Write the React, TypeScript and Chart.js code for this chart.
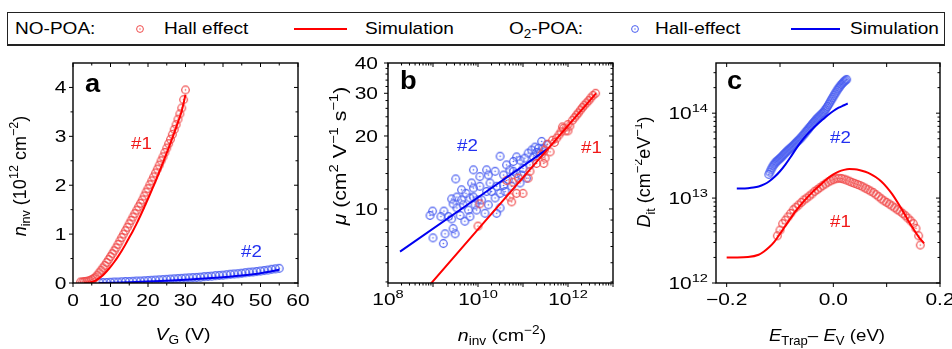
import React, { useEffect, useRef } from 'react';
import { Chart, registerables } from 'chart.js';
Chart.register(...registerables);

const FONT = '"Liberation Sans", Arial, Helvetica, sans-serif';
const RED_LINE = '#ff0000';
const BLUE_LINE = '#0000f0';
const RED_PT = '#f04c4c';
const BLUE_PT = '#4a5ef0';
const RED_TXT = '#f01818';
const BLUE_TXT = '#2230f0';

// ---------- Panel a : n_inv vs V_G ----------
const A_RED_HALL_V = [2, 2.5, 3, 3.5, 4, 4.5, 5, 5.5, 6, 6.5, 7, 7.5, 8, 8.5, 9, 9.5, 10, 10.5, 11, 11.5, 12, 12.5, 13, 13.5, 14, 14.5, 15, 15.5, 16, 16.5, 17, 17.5, 18, 18.5, 19, 19.5, 20, 20.5, 21, 21.5, 22, 22.5, 23, 23.5, 24, 24.5, 25, 25.5, 26, 26.5, 27, 27.5, 28, 28.5, 29, 29.5, 30];
const A_RED_HALL_N = [0.02, 0.02, 0.03, 0.03, 0.04, 0.05, 0.07, 0.09, 0.12, 0.16, 0.21, 0.26, 0.31, 0.36, 0.42, 0.48, 0.54, 0.6, 0.66, 0.72, 0.79, 0.86, 0.93, 1.0, 1.07, 1.14, 1.21, 1.28, 1.35, 1.42, 1.49, 1.56, 1.63, 1.7, 1.78, 1.86, 1.93, 2.01, 2.09, 2.17, 2.25, 2.33, 2.41, 2.5, 2.58, 2.67, 2.76, 2.85, 2.94, 3.04, 3.14, 3.24, 3.35, 3.46, 3.58, 3.75, 3.95];
const A_RED_SIM_V = [3, 4, 5, 6, 7, 8, 9, 10, 11, 12, 13, 14, 15, 16, 17, 18, 19, 20, 21, 22, 23, 24, 25, 26, 27, 28, 29, 30];
const A_RED_SIM_N = [0, 0.005, 0.02, 0.05, 0.1, 0.16, 0.24, 0.33, 0.43, 0.54, 0.66, 0.79, 0.93, 1.07, 1.22, 1.38, 1.55, 1.72, 1.9, 2.08, 2.27, 2.46, 2.66, 2.86, 3.07, 3.29, 3.52, 3.85];
const A_BLUE_HALL_V = [7, 8, 9, 10, 11, 12, 13, 14, 15, 16, 17, 18, 19, 20, 21, 22, 23, 24, 25, 26, 27, 28, 29, 30, 31, 32, 33, 34, 35, 36, 37, 38, 39, 40, 41, 42, 43, 44, 45, 46, 47, 48, 49, 50, 51, 52, 53, 54, 55];
const A_BLUE_HALL_N = [0.01, 0.01, 0.01, 0.015, 0.02, 0.02, 0.025, 0.03, 0.03, 0.035, 0.04, 0.04, 0.045, 0.05, 0.055, 0.06, 0.065, 0.07, 0.075, 0.08, 0.085, 0.09, 0.095, 0.1, 0.105, 0.11, 0.115, 0.12, 0.13, 0.135, 0.14, 0.15, 0.155, 0.16, 0.17, 0.18, 0.185, 0.19, 0.2, 0.21, 0.22, 0.225, 0.235, 0.245, 0.255, 0.265, 0.28, 0.29, 0.3];
const A_BLUE_SIM_V = [7, 10, 15, 20, 25, 30, 35, 40, 45, 50, 55];
const A_BLUE_SIM_N = [0, 0.005, 0.015, 0.03, 0.045, 0.065, 0.09, 0.12, 0.155, 0.2, 0.27];
const A_X_TICKS = [0, 10, 20, 30, 40, 50, 60];
const A_X_MINOR = [5, 15, 25, 35, 45, 55];
const A_Y_TICKS = [0, 1, 2, 3, 4];
const A_Y_MINOR = [0.5, 1.5, 2.5, 3.5];

// ---------- Panel b : mobility vs n_inv ----------
const B_BLUE_HALL_N = [9.8e8, 8.6e8, 1.75e9, 1.5e9, 2.6e9, 2.8e9, 3.4e9, 2.6e9, 4.7e9, 5.4e9, 6.6e9, 7.9e9, 8.6e9, 1.1e10, 1.2e10, 1.55e10, 1.7e10, 1.85e10, 2.4e10, 2.6e10, 3.1e10, 7.9e9, 3.2e9, 1.55e10, 2.4e10, 3.7e10, 4.0e10, 4.7e10, 5.1e10, 7.2e10, 8.6e10, 8.6e10, 1.1e11, 1.43e11, 1.7e11, 2.4e11, 2.6e11, 2.2e11, 3.4e11, 3.1e10, 2.6e10, 6.6e9, 5.1e9, 1.85e9, 2.8e9, 1.0e9, 1.7e9, 3.1e9, 9.3e9, 1.43e10, 4.3e10, 6.1e10, 1.0e11, 1.2e11, 1.7e10, 1.1e10, 7.2e9, 4.3e9, 3.4e9, 6.1e9, 4.0e9, 2.2e9, 6.1e10, 7.2e10, 1.3e11, 1.56e11, 1.85e11, 2.0e11, 2.8e11, 9.3e10, 3.7e10, 5.6e10, 2.0e10, 3.1e10, 7.9e9, 4.3e9, 1.0e10];
const B_BLUE_HALL_MU = [9.8, 9.4, 9.8, 9.3, 11.0, 10.5, 10.1, 9.1, 10.4, 11.6, 11.1, 12.2, 10.4, 12.4, 10.9, 11.8, 10.4, 12.8, 11.1, 12.4, 16.5, 14.5, 13.3, 14.5, 14.3, 13.8, 11.8, 13.2, 14.5, 14.0, 15.9, 12.8, 16.2, 15.2, 16.4, 17.0, 19.0, 17.8, 18.4, 10.1, 9.6, 9.3, 8.9, 7.9, 8.3, 7.6, 7.2, 7.9, 9.9, 9.6, 15.2, 14.3, 14.7, 13.4, 13.8, 13.6, 12.8, 12.0, 11.2, 9.9, 9.4, 9.3, 15.7, 16.4, 17.0, 17.5, 18.0, 17.1, 17.8, 13.8, 12.5, 12.4, 11.8, 11.6, 11.2, 10.9, 10.9];
const B_RED_HALL_N = [1.0e10, 1.1e10, 4.3e10, 5.1e10, 5.6e10, 7.2e10, 1.0e11, 6.0e10, 7.9e10, 1.3e11, 1.43e11, 2.0e11, 2.9e11, 3.1e11, 2.6e11, 3.0e11, 3.5e11, 4.0e11, 4.5e11, 5.0e11, 5.6e11, 6.3e11, 7.0e11, 7.5e11, 7.9e11, 8.9e11, 1.0e12, 1.0e12, 1.1e12, 1.25e12, 1.4e12, 1.55e12, 1.7e12, 1.9e12, 2.1e12, 2.3e12, 2.6e12, 2.9e12, 3.2e12, 3.6e12, 4.1e12];
const B_RED_HALL_MU = [8.5, 10.5, 13.1, 11.2, 10.7, 11.6, 11.6, 12.9, 13.4, 13.4, 14.3, 15.4, 15.4, 16.2, 16.8, 17.5, 18.5, 17.2, 19.2, 18.8, 19.6, 20.2, 20.8, 21.8, 21.5, 21.0, 22.3, 21.0, 22.0, 23.2, 23.8, 24.4, 24.9, 25.6, 26.2, 26.8, 27.4, 28.0, 28.7, 29.4, 30.0];
const B_BLUE_SIM_N = [1.85e8, 3.4e11];
const B_BLUE_SIM_MU = [6.67, 17.6];
const B_RED_SIM_N = [8.0e8, 4.2e12];
const B_RED_SIM_MU = [4.8, 30];
const B_X_LABEL_EXP = [8, 10, 12];
const B_X_DECADES = [8, 9, 10, 11, 12, 13];
const B_Y_TICKS = [10, 20, 30, 40];
const B_Y_MINOR = [5, 6, 7, 8, 9, 12, 14, 16, 18, 22, 24, 26, 28, 32, 34, 36, 38];

// ---------- Panel c : D_it vs E_trap - E_V ----------
const C_BLUE_HALL_E = [-0.121, -0.119, -0.117, -0.115, -0.113, -0.111, -0.109, -0.107, -0.105, -0.103, -0.101, -0.099, -0.097, -0.095, -0.093, -0.091, -0.089, -0.087, -0.085, -0.083, -0.081, -0.079, -0.077, -0.075, -0.073, -0.071, -0.069, -0.067, -0.065, -0.063, -0.061, -0.059, -0.057, -0.055, -0.053, -0.051, -0.049, -0.047, -0.045, -0.043, -0.041, -0.039, -0.037, -0.035, -0.033, -0.031, -0.029, -0.027, -0.025, -0.023, -0.021, -0.019, -0.017, -0.015, -0.013, -0.011, -0.009, -0.007, -0.005, -0.003, -0.001, 0.001, 0.003, 0.005, 0.007, 0.009, 0.011, 0.013, 0.015, 0.017, 0.019, 0.021, 0.023, 0.025];
const C_BLUE_HALL_D13 = [1.9, 2.02, 2.15, 2.28, 2.4, 2.5, 2.6, 2.68, 2.75, 2.82, 2.9, 2.97, 3.05, 3.15, 3.25, 3.35, 3.45, 3.55, 3.65, 3.75, 3.85, 3.95, 4.05, 4.18, 4.3, 4.42, 4.55, 4.68, 4.8, 4.95, 5.1, 5.28, 5.45, 5.65, 5.85, 6.08, 6.3, 6.52, 6.75, 7.0, 7.25, 7.5, 7.75, 8.02, 8.3, 8.55, 8.8, 9.05, 9.3, 9.6, 9.9, 10.2, 10.6, 11.0, 11.5, 12.0, 12.6, 13.2, 13.9, 14.6, 15.3, 16.1, 16.9, 17.7, 18.6, 19.4, 20.2, 21.0, 21.8, 22.5, 23.2, 23.8, 24.4, 25.0];
const C_RED_HALL_E = [-0.105, -0.1, -0.095, -0.09, -0.085, -0.08, -0.075, -0.07, -0.065, -0.06, -0.055, -0.05, -0.045, -0.04, -0.035, -0.03, -0.025, -0.02, -0.015, -0.01, -0.005, 0, 0.005, 0.01, 0.015, 0.02, 0.025, 0.03, 0.035, 0.04, 0.045, 0.05, 0.055, 0.06, 0.065, 0.07, 0.075, 0.08, 0.085, 0.09, 0.095, 0.1, 0.105, 0.11, 0.115, 0.12, 0.125, 0.13, 0.135, 0.14, 0.145, 0.15, 0.155, 0.16, 0.163];
const C_RED_HALL_D13 = [0.36, 0.42, 0.5, 0.55, 0.6, 0.66, 0.73, 0.78, 0.83, 0.89, 0.95, 1.0, 1.06, 1.12, 1.2, 1.26, 1.33, 1.4, 1.47, 1.54, 1.6, 1.65, 1.69, 1.71, 1.7, 1.67, 1.63, 1.58, 1.53, 1.49, 1.45, 1.41, 1.36, 1.31, 1.26, 1.21, 1.16, 1.1, 1.04, 0.98, 0.93, 0.89, 0.85, 0.81, 0.77, 0.73, 0.7, 0.66, 0.62, 0.58, 0.54, 0.5, 0.44, 0.36, 0.28];
const C_RED_SIM_E = [-0.2, -0.18, -0.16, -0.14, -0.13, -0.12, -0.11, -0.1, -0.09, -0.08, -0.07, -0.06, -0.05, -0.04, -0.03, -0.02, -0.01, 0, 0.01, 0.02, 0.03, 0.04, 0.05, 0.06, 0.07, 0.08, 0.09, 0.1, 0.11, 0.12, 0.13, 0.14, 0.15, 0.16, 0.17];
const C_RED_SIM_D12 = [2.0, 2.0, 2.02, 2.15, 2.35, 2.65, 3.1, 3.8, 4.7, 5.8, 7.1, 8.5, 10.0, 11.6, 13.3, 15.2, 17.2, 19.0, 20.5, 21.5, 22.0, 21.9, 21.3, 20.4, 19.2, 17.6, 15.7, 13.5, 11.2, 9.0, 7.1, 5.5, 4.35, 3.5, 2.93];
const C_BLUE_SIM_E = [-0.181, -0.17, -0.16, -0.15, -0.14, -0.13, -0.12, -0.11, -0.1, -0.09, -0.08, -0.07, -0.06, -0.05, -0.04, -0.03, -0.02, -0.01, 0, 0.01, 0.02, 0.027];
const C_BLUE_SIM_D13 = [1.3, 1.3, 1.31, 1.33, 1.37, 1.45, 1.58, 1.78, 2.07, 2.48, 3.05, 3.8, 4.65, 5.55, 6.45, 7.4, 8.4, 9.5, 10.6, 11.6, 12.4, 13.0];
const C_X_TICKS = [-0.2, 0, 0.2];
const C_X_TICK_LABELS = ['\u22120.2', '0.0', '0.2'];
const C_X_MID = [-0.1, 0.1];
const C_Y_EXP = [12, 13, 14];

// ---------- helpers ----------
type Run = { t: string; it?: boolean; b?: boolean; sup?: boolean; sub?: boolean };
type TOpt = { size: number; sx?: number; align?: 'left' | 'center' | 'right'; rot?: boolean; color?: string };

function runFont(r: Run, size: number) {
  const s = r.sup || r.sub ? size * 0.7 : size;
  return `${r.it ? 'italic ' : ''}${r.b ? 'bold ' : ''}${s}px ${FONT}`;
}

function drawRich(ctx: CanvasRenderingContext2D, runs: Run[], x: number, y: number, o: TOpt) {
  const sx = o.sx ?? 1;
  const align = o.align ?? 'left';
  ctx.save();
  let w = 0;
  const ws: number[] = [];
  for (const r of runs) {
    ctx.font = runFont(r, o.size);
    const m = ctx.measureText(r.t).width;
    ws.push(m);
    w += m;
  }
  ctx.translate(x, y);
  if (o.rot) ctx.rotate(-Math.PI / 2);
  ctx.scale(sx, 1);
  let cx = align === 'left' ? 0 : align === 'center' ? -w / 2 : -w;
  ctx.fillStyle = o.color ?? '#000';
  ctx.textBaseline = 'alphabetic';
  ctx.textAlign = 'left';
  runs.forEach((r, i) => {
    ctx.font = runFont(r, o.size);
    const dy = r.sup ? -o.size * 0.42 : r.sub ? o.size * 0.26 : 0;
    ctx.fillText(r.t, cx, dy);
    cx += ws[i];
  });
  ctx.restore();
}

function marker(color: string) {
  const c = document.createElement('canvas');
  c.width = 11;
  c.height = 11;
  const g = c.getContext('2d')!;
  g.strokeStyle = color;
  g.lineWidth = 1.2;
  g.beginPath();
  g.arc(5.5, 5.5, 3.8, 0, Math.PI * 2);
  g.stroke();
  g.fillStyle = color;
  g.beginPath();
  g.arc(5.5, 5.5, 0.8, 0, Math.PI * 2);
  g.fill();
  return c;
}

function pts(xs: number[], ys: number[], k = 1) {
  return xs.map((x, i) => ({ x, y: ys[i] * k }));
}

function scatterDs(data: any[], color: string, order: number) {
  return { data, showLine: false, pointStyle: marker(color), pointRadius: 4, pointHoverRadius: 4, order };
}
function lineDs(data: any[], color: string, order: number) {
  return {
    data, showLine: true, borderColor: color, borderWidth: 2, pointRadius: 0, pointHoverRadius: 0,
    cubicInterpolationMode: 'monotone', fill: false, clip: 0, order,
  };
}

type Spec = {
  xMajor: number[]; xMinor: number[]; yMajor: number[]; yMinor: number[];
  labels: (ctx: CanvasRenderingContext2D, chart: any) => void;
};

const MAJ = 4;
const MIN = 2.5;

function framePlugin(spec: Spec) {
  return {
    id: 'frame',
    afterDraw(chart: any) {
      const ctx: CanvasRenderingContext2D = chart.ctx;
      const { left, right, top, bottom } = chart.chartArea;
      const xs = chart.scales.x;
      const ys = chart.scales.y;
      ctx.save();
      ctx.strokeStyle = '#000';
      ctx.lineWidth = 1.4;
      ctx.strokeRect(left, top, right - left, bottom - top);
      ctx.lineWidth = 1;
      const seg = (x1: number, y1: number, x2: number, y2: number) => {
        ctx.beginPath();
        ctx.moveTo(x1, y1);
        ctx.lineTo(x2, y2);
        ctx.stroke();
      };
      const xt = (vals: number[], len: number) => vals.forEach((v) => {
        const p = xs.getPixelForValue(v);
        seg(p, bottom, p, bottom + len);
        seg(p, top, p, top + len);
      });
      const yt = (vals: number[], len: number) => vals.forEach((v) => {
        const p = ys.getPixelForValue(v);
        seg(left - len, p, left, p);
        seg(right - len, p, right, p);
      });
      xt(spec.xMajor, MAJ);
      xt(spec.xMinor, MIN);
      yt(spec.yMajor, MAJ);
      yt(spec.yMinor, MIN);
      ctx.restore();
      spec.labels(ctx, chart);
    },
  };
}

function makeChart(canvas: HTMLCanvasElement, datasets: any[], scales: any, padding: any, spec: Spec) {
  return new Chart(canvas, {
    type: 'scatter',
    data: { datasets },
    options: {
      responsive: false,
      animation: false,
      devicePixelRatio: 1,
      events: [],
      layout: { padding },
      scales,
      plugins: { legend: { display: false }, tooltip: { enabled: false } },
    },
    plugins: [framePlugin(spec)],
  } as any);
}

const TK = { size: 16.5, sx: 1.27 };
const TT = { size: 17, sx: 1.15 };
const ANN = { size: 17, sx: 1.1 };

function decadeMinors(from: number, to: number, maxV: number) {
  const out: number[] = [];
  for (let d = from; d <= to; d++) for (let k = 2; k <= 9; k++) { const v = k * Math.pow(10, d); if (v <= maxV) out.push(v); }
  return out;
}

export default function App() {
  const ra = useRef<HTMLCanvasElement>(null);
  const rb = useRef<HTMLCanvasElement>(null);
  const rc = useRef<HTMLCanvasElement>(null);

  useEffect(() => {
    // Panel a
    const ca = makeChart(
      ra.current!,
      [
        lineDs(pts(A_RED_SIM_V, A_RED_SIM_N), RED_LINE, 0),
        lineDs(pts(A_BLUE_SIM_V, A_BLUE_SIM_N), BLUE_LINE, 1),
        scatterDs(pts(A_RED_HALL_V, A_RED_HALL_N), RED_PT, 2),
        scatterDs(pts(A_BLUE_HALL_V, A_BLUE_HALL_N), BLUE_PT, 3),
      ],
      { x: { type: 'linear', min: 0, max: 60, display: false }, y: { type: 'linear', min: 0, max: 4.5, display: false } },
      { left: 73, right: 22, top: 13, bottom: 66 },
      {
        xMajor: A_X_TICKS, xMinor: A_X_MINOR, yMajor: A_Y_TICKS, yMinor: A_Y_MINOR,
        labels: (ctx, ch) => {
          const xs = ch.scales.x, ys = ch.scales.y;
          A_X_TICKS.forEach((v) => drawRich(ctx, [{ t: String(v) }], xs.getPixelForValue(v), 255.5, { ...TK, align: 'center' }));
          A_Y_TICKS.forEach((v) => drawRich(ctx, [{ t: String(v) }], 66.5, ys.getPixelForValue(v) + 5.8, { ...TK, align: 'right' }));
          drawRich(ctx, [{ t: 'V', it: true }, { t: 'G', sub: true }, { t: ' (V)' }], 183, 290, { ...TT, align: 'center' });
          drawRich(ctx, [{ t: 'n', it: true }, { t: 'inv', sub: true }, { t: ' (10' }, { t: '12', sup: true }, { t: ' cm' }, { t: '\u22122', sup: true }, { t: ')' }], 25.5, 126, { size: 18, rot: true, align: 'center' });
          drawRich(ctx, [{ t: 'a', b: true }], 85, 42, { size: 26, sx: 1.05 });
          drawRich(ctx, [{ t: '#1' }], 131, 99, { ...ANN, color: RED_TXT });
          drawRich(ctx, [{ t: '#2' }], 241, 207, { ...ANN, color: BLUE_TXT });
        },
      },
    );

    // Panel b
    const cb = makeChart(
      rb.current!,
      [
        lineDs(pts(B_RED_SIM_N, B_RED_SIM_MU), RED_LINE, 0),
        lineDs(pts(B_BLUE_SIM_N, B_BLUE_SIM_MU), BLUE_LINE, 1),
        scatterDs(pts(B_RED_HALL_N, B_RED_HALL_MU), RED_PT, 2),
        scatterDs(pts(B_BLUE_HALL_N, B_BLUE_HALL_MU), BLUE_PT, 3),
      ],
      { x: { type: 'logarithmic', min: 1e8, max: 1e13, display: false }, y: { type: 'logarithmic', min: 4.95, max: 40, display: false } },
      { left: 68, right: 22, top: 13, bottom: 66 },
      {
        xMajor: B_X_DECADES.map((e) => Math.pow(10, e)), xMinor: decadeMinors(8, 12, 1e13),
        yMajor: B_Y_TICKS, yMinor: B_Y_MINOR,
        labels: (ctx, ch) => {
          const xs = ch.scales.x, ys = ch.scales.y;
          B_X_LABEL_EXP.forEach((e) => drawRich(ctx, [{ t: '10' }, { t: String(e), sup: true }], xs.getPixelForValue(Math.pow(10, e)), 255, { ...TK, align: 'center' }));
          B_Y_TICKS.forEach((v) => drawRich(ctx, [{ t: String(v) }], 58, ys.getPixelForValue(v) + 5.8, { ...TK, align: 'right' }));
          drawRich(ctx, [{ t: 'n', it: true }, { t: 'inv', sub: true }, { t: ' (cm' }, { t: '\u22122', sup: true }, { t: ')' }], 182, 291, { ...TT, align: 'center' });
          drawRich(ctx, [{ t: '\u03bc', it: true }, { t: ' (cm' }, { t: '2', sup: true }, { t: ' V' }, { t: '\u22121', sup: true }, { t: ' s' }, { t: '\u22121', sup: true }, { t: ')' }], 26, 106, { size: 18, sx: 1.18, rot: true, align: 'center' });
          drawRich(ctx, [{ t: 'b', b: true }], 80, 39, { size: 26, sx: 1.05 });
          drawRich(ctx, [{ t: '#2' }], 137, 101, { ...ANN, color: BLUE_TXT });
          drawRich(ctx, [{ t: '#1' }], 261, 103, { ...ANN, color: RED_TXT });
        },
      },
    );

    // Panel c
    const cc = makeChart(
      rc.current!,
      [
        lineDs(pts(C_RED_SIM_E, C_RED_SIM_D12, 1e12), RED_LINE, 0),
        lineDs(pts(C_BLUE_SIM_E, C_BLUE_SIM_D13, 1e13), BLUE_LINE, 1),
        scatterDs(pts(C_RED_HALL_E, C_RED_HALL_D13, 1e13), RED_PT, 2),
        scatterDs(pts(C_BLUE_HALL_E, C_BLUE_HALL_D13, 1e13), BLUE_PT, 3),
      ],
      { x: { type: 'linear', min: -0.22, max: 0.2, display: false }, y: { type: 'logarithmic', min: 1e12, max: 3.9e14, display: false } },
      { left: 81, right: 12, top: 13, bottom: 66 },
      {
        xMajor: [...C_X_TICKS, ...C_X_MID], xMinor: [],
        yMajor: C_Y_EXP.map((e) => Math.pow(10, e)), yMinor: decadeMinors(12, 14, 3.9e14),
        labels: (ctx, ch) => {
          const xs = ch.scales.x, ys = ch.scales.y;
          C_X_TICKS.forEach((v, i) => drawRich(ctx, [{ t: C_X_TICK_LABELS[i] }], xs.getPixelForValue(v), 255, { ...TK, align: 'center' }));
          C_Y_EXP.forEach((e) => drawRich(ctx, [{ t: '10' }, { t: String(e), sup: true }], 73, ys.getPixelForValue(Math.pow(10, e)) + 5.8, { ...TK, align: 'right' }));
          drawRich(ctx, [{ t: 'E', it: true }, { t: 'Trap', sub: true }, { t: '\u2013 ' }, { t: 'E', it: true }, { t: 'V', sub: true }, { t: ' (eV)' }], 192, 291, { ...TT, sx: 1.1, align: 'center' });
          drawRich(ctx, [{ t: 'D', it: true }, { t: 'it', sub: true }, { t: ' (cm' }, { t: '\u22122', sup: true }, { t: 'eV' }, { t: '\u22121', sup: true }, { t: ')' }], 15, 122, { size: 18, rot: true, align: 'center' });
          drawRich(ctx, [{ t: 'c', b: true }], 92, 39, { size: 26, sx: 1.05 });
          drawRich(ctx, [{ t: '#2' }], 195, 93, { ...ANN, color: BLUE_TXT });
          drawRich(ctx, [{ t: '#1' }], 195, 177, { ...ANN, color: RED_TXT });
        },
      },
    );

    return () => {
      ca.destroy();
      cb.destroy();
      cc.destroy();
    };
  }, []);

  const txt: React.CSSProperties = {
    position: 'absolute', top: 20, fontFamily: FONT, fontSize: 17, lineHeight: '17px',
    transform: 'scaleX(1.12)', transformOrigin: 'left center', whiteSpace: 'nowrap', color: '#000',
  };
  const cv = (left: number, w: number): React.CSSProperties => ({ position: 'absolute', left, top: 50, width: w, height: 299 });

  return (
    <div style={{ position: 'absolute', left: 0, top: 0, width: 952, height: 349, background: '#fff', overflow: 'hidden' }}>
      <div style={{ position: 'absolute', left: 7, top: 12, width: 938, height: 34, boxSizing: 'border-box', border: '1px solid #222', borderBottomWidth: 2 }} />
      <span style={{ ...txt, left: 15 }}>NO-POA:</span>
      <span style={{ ...txt, left: 164 }}>Hall effect</span>
      <span style={{ ...txt, left: 365 }}>Simulation</span>
      <span style={{ ...txt, left: 509 }}>O<sub style={{ fontSize: 12, verticalAlign: -4 }}>2</sub>-POA:</span>
      <span style={{ ...txt, left: 655 }}>Hall-effect</span>
      <span style={{ ...txt, left: 850 }}>Simulation</span>
      <svg width={952} height={50} style={{ position: 'absolute', left: 0, top: 0 }}>
        <circle cx={140} cy={29} r={3.4} fill="none" stroke={RED_PT} strokeWidth={1} />
        <circle cx={140} cy={29} r={0.7} fill={RED_PT} />
        <line x1={294} y1={29} x2={347} y2={29} stroke={RED_LINE} strokeWidth={2} />
        <circle cx={635} cy={29} r={3.4} fill="none" stroke={BLUE_PT} strokeWidth={1} />
        <circle cx={635} cy={29} r={0.7} fill={BLUE_PT} />
        <line x1={791} y1={29} x2={840} y2={29} stroke={BLUE_LINE} strokeWidth={2} />
      </svg>
      <canvas ref={ra} width={320} height={299} style={cv(0, 320)} />
      <canvas ref={rb} width={315} height={299} style={cv(320, 315)} />
      <canvas ref={rc} width={317} height={299} style={cv(635, 317)} />
    </div>
  );
}
